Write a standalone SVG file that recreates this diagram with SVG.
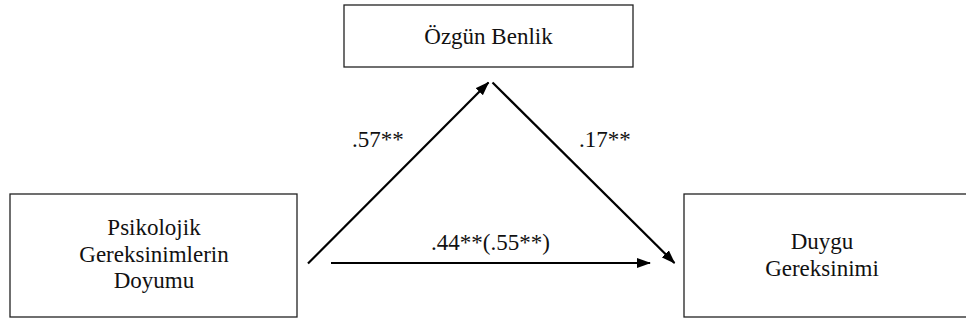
<svg xmlns="http://www.w3.org/2000/svg" width="966" height="323" viewBox="0 0 966 323">
<defs>
<style>
.box{fill:#fff;stroke:#222;stroke-width:1.3}
.t{font-family:'Liberation Serif','Times New Roman',Times,serif;font-size:23px;fill:#111;text-anchor:middle}
.lbl{font-family:'Liberation Serif','Times New Roman',Times,serif;font-size:23px;fill:#111}
.c{stroke:#000;stroke-width:2.2;fill:none}
</style>
<marker id="ah" viewBox="0 0 14 10" refX="13" refY="5" markerWidth="14" markerHeight="10" markerUnits="userSpaceOnUse" orient="auto">
<path d="M0,0 L14,5 L0,10 Z" fill="#000"/>
</marker>
</defs>
<rect width="966" height="323" fill="#fff"/>
<g id="node-ozgun">
<rect class="box" x="344" y="5" width="289" height="62"/>
<text class="t" x="488.5" y="44">Özgün Benlik</text>
</g>
<g id="node-psikolojik">
<rect class="box" x="10" y="194" width="287" height="123"/>
<text class="t" x="154" y="235">Psikolojik</text>
<text class="t" x="154" y="262">Gereksinimlerin</text>
<text class="t" x="154" y="288">Doyumu</text>
</g>
<g id="node-duygu">
<rect class="box" x="684" y="194" width="300" height="123"/>
<text class="t" x="822" y="249">Duygu</text>
<text class="t" x="822" y="276">Gereksinimi</text>
</g>
<g id="connectors">
<line class="c" x1="308" y1="263.5" x2="488.5" y2="82.5" marker-end="url(#ah)"/>
<line class="c" x1="492.5" y1="82.5" x2="674.5" y2="263" marker-end="url(#ah)"/>
<line class="c" x1="331" y1="263" x2="650" y2="263" marker-end="url(#ah)"/>
<text class="lbl" x="352" y="147">.57**</text>
<text class="lbl" x="579" y="147">.17**</text>
<text class="lbl" x="431" y="250">.44**(.55**)</text>
</g>
</svg>
